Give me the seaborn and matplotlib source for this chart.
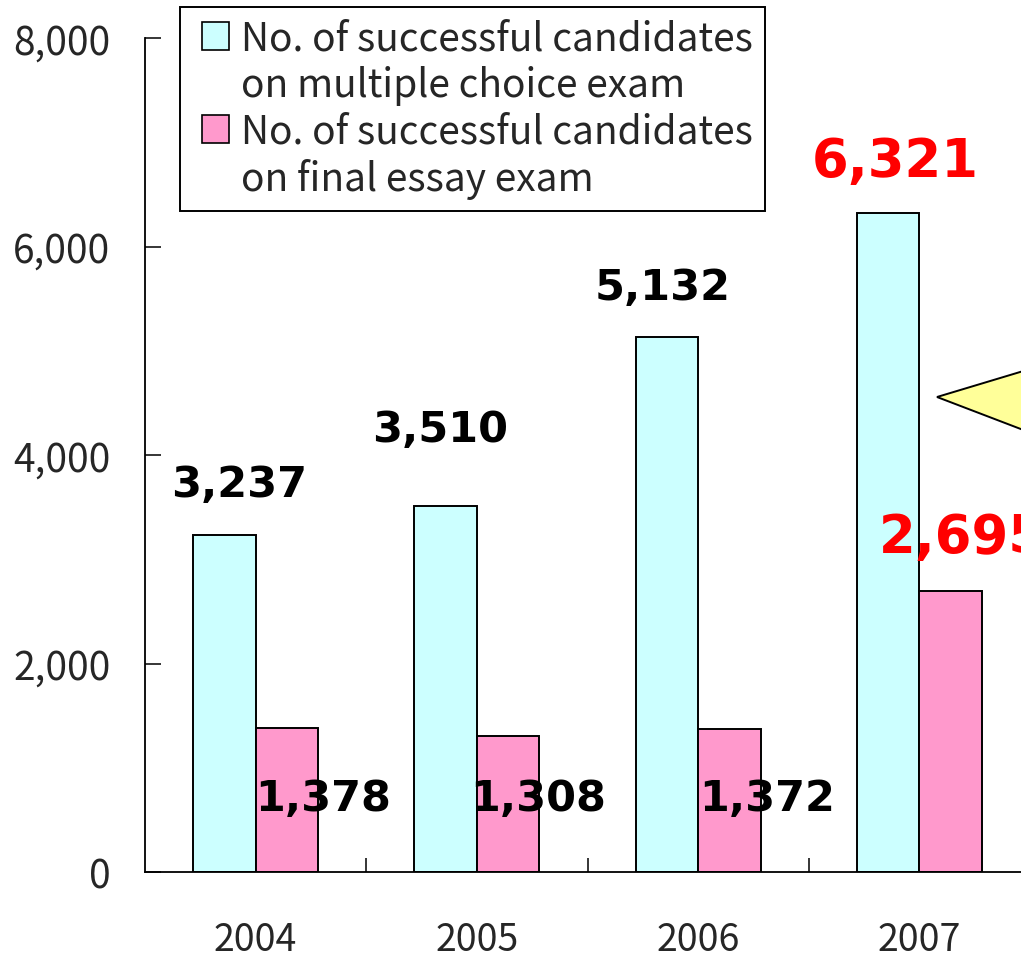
import pandas as pd
import matplotlib
matplotlib.use("Agg")
import matplotlib.pyplot as plt
import matplotlib.patches as mpatches
import matplotlib.ticker as mticker
from matplotlib.legend_handler import HandlerPatch
import seaborn as sns

years = ["2004", "2005", "2006", "2007"]
multiple_choice = [3237, 3510, 5132, 6321]
final_essay = [1378, 1308, 1372, 2695]
series_names = ["No. of successful candidates\non multiple choice exam",
                "No. of successful candidates\non final essay exam"]

df = pd.DataFrame({
    "year": years * 2,
    "count": multiple_choice + final_essay,
    "exam": [series_names[0]] * 4 + [series_names[1]] * 4,
})

sns.set_style("white")
plt.rcParams["font.family"] = ["Noto Sans CJK JP", "DejaVu Sans"]

cyan = "#CCFFFF"
pink = "#FF99CC"

fig = plt.figure(figsize=(10.21, 9.54), dpi=100)
# axes run past the right edge of the picture, like the cropped original
ax = fig.add_axes([145 / 1021, 81 / 954, 885 / 1021, 834 / 954])

sns.barplot(data=df, x="year", y="count", hue="exam", palette=[cyan, pink],
            saturation=1, width=0.565, edgecolor="black", linewidth=1.4,
            legend=False, ax=ax)

ax.set_xlim(-0.5, 3.5)
ax.set_ylim(0, 8000)
ax.set_yticks(range(0, 8001, 2000))
ax.yaxis.set_major_formatter(mticker.FuncFormatter(lambda v, p: f"{v:,.0f}"))
ax.set_xlabel("")
ax.set_ylabel("")

for s in ["top", "right"]:
    ax.spines[s].set_visible(False)
for s in ["left", "bottom"]:
    ax.spines[s].set_color("black")
    ax.spines[s].set_linewidth(1.3)

ax.tick_params(axis="y", direction="in", length=11.5, width=1.1, color="black",
               labelsize=28, pad=25, left=True)
ax.tick_params(axis="x", which="major", length=0, labelsize=27, pad=34.5)
ax.set_xticks([0.5, 1.5, 2.5], minor=True)
ax.tick_params(axis="x", which="minor", direction="in", length=10, width=1.1,
               color="black", bottom=True)

# value labels
label_text = ["3,237", "3,510", "5,132", "6,321", "1,378", "1,308", "1,372", "2,695"]
label_xy = [(-0.075, 3605), (0.833, 4132), (1.840, 5494), (2.891, 6673),
            (0.307, 594), (1.276, 594), (2.31, 594), (2.815, 3068)]
label_color = ["black"] * 3 + ["red"] + ["black"] * 3 + ["red"]
label_size = [31, 31, 31, 38, 31, 31, 31, 38]
label_ha = ["center"] * 7 + ["left"]
for t, (x, y), c, sz, ha in zip(label_text, label_xy, label_color, label_size, label_ha):
    ax.text(x, y, t, color=c, fontsize=sz, fontweight="bold", family="DejaVu Sans",
            ha=ha, va="baseline", clip_on=False)

# legend, one text line per entry so the swatch sits on the first line
blank = mpatches.Patch(facecolor="none", edgecolor="none")
handles = [mpatches.Patch(facecolor=cyan, edgecolor="black", linewidth=1.2), blank,
           mpatches.Patch(facecolor=pink, edgecolor="black", linewidth=1.2), blank]
labels = []
for name in series_names:
    labels += name.split("\n")
leg = ax.legend(handles, labels, loc="upper left", bbox_to_anchor=(180 / 1021, 1 - 8 / 954),
                bbox_transform=fig.transFigure, borderaxespad=0, fontsize=28,
                frameon=True, fancybox=False, edgecolor="black", framealpha=1,
                handlelength=0.97, handleheight=0.72, handletextpad=0.3,
                labelspacing=0.17, borderpad=0.3,
                handler_map={mpatches.Patch: HandlerPatch(xpad=0.27)})
leg.get_frame().set_linewidth(1.4)

# yellow callout pointing at the 2007 bar (cut off at the edge)
tri = [(937, 398), (1060, 361), (1060, 445)]
fig.patches.append(mpatches.Polygon([(x / 1021, 1 - y / 954) for x, y in tri],
                                    closed=True, facecolor="#FFFF99", edgecolor="black",
                                    linewidth=1.4, transform=fig.transFigure, zorder=5))

fig.savefig("out.png", dpi=100)
